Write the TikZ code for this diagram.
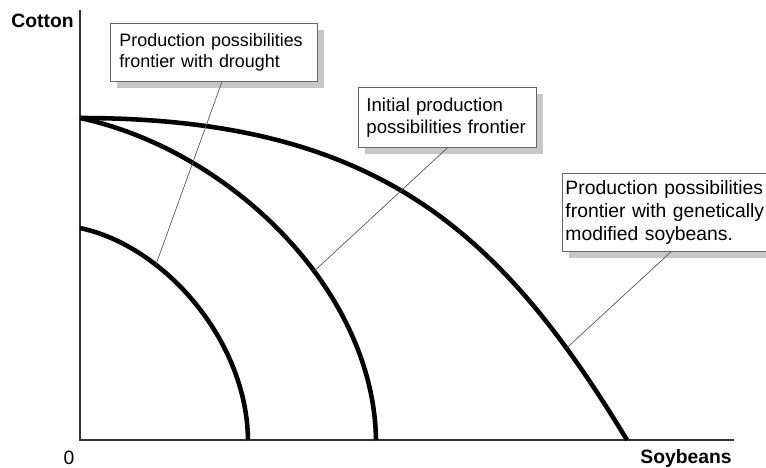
\documentclass[tikz,border=0pt]{standalone}
\usepackage{fontspec}
\setmainfont{Liberation Sans}
\usetikzlibrary{shadows}
\tikzset{
  axis/.style={line width=1.1pt, black!80},
  ppf/.style={line width=2.6pt},
  leader/.style={line width=0.4pt, black!65},
  callout/.style={draw=black!60, line width=0.5pt, fill=white, anchor=north west, align=left,
    drop shadow={shadow xshift=0.14cm, shadow yshift=-0.14cm, fill=black!22, opacity=1}},
  axislabel/.style={inner sep=0pt, font=\fontsize{11}{13}\selectfont\bfseries}
}
\begin{document}
\begin{tikzpicture}[x=0.02cm,y=-0.02cm]
\useasboundingbox (0,0) rectangle (766,467);
\draw [axis] (80,10) |- (734,440);
\node [axislabel, anchor=base east] (cotton) at (74,27) {Cotton};
\node [axislabel, anchor=base east] (soybeans) at (732,463) {Soybeans};
\node [inner sep=0pt, anchor=base, font=\fontsize{11}{13}\selectfont] (origin) at (69,464) {0};
\draw [ppf] (80,228) .. controls (165,246) and (247,341) .. (248,440) coordinate [pos=0.31] (pdrought);
\draw [ppf] (80,118) .. controls (230,150) and (374,290) .. (376,440) coordinate [pos=0.6] (pinitial);
\draw [ppf] (80,118) .. controls (380,118) and (502,234) .. (627,440) coordinate [pos=0.84] (pgm);
\node [callout, font=\fontsize{10.2}{12}\selectfont, text width=3.78cm, inner xsep=0.18cm, minimum height=1.16cm]
  (drought) at (110,23) {Production possibilities\\frontier with drought};
\node [callout, font=\fontsize{10.6}{12.4}\selectfont, text width=3.24cm, inner xsep=0.16cm, minimum height=1.2cm]
  (initial) at (358,87) {Initial production\\possibilities frontier};
\node [callout, font=\fontsize{11}{13}\selectfont, text width=4.1cm, inner xsep=0.06cm, minimum height=1.56cm]
  (gm) at (562,173) {Production possibilities\\frontier with genetically\\modified soybeans.};
\draw [leader] (drought.south) ++(8,0) -- (pdrought);
\draw [leader] (initial.south) -- (pinitial);
\draw [leader] (gm.south) ++(3,0) -- (pgm);
\end{tikzpicture}
\end{document}
